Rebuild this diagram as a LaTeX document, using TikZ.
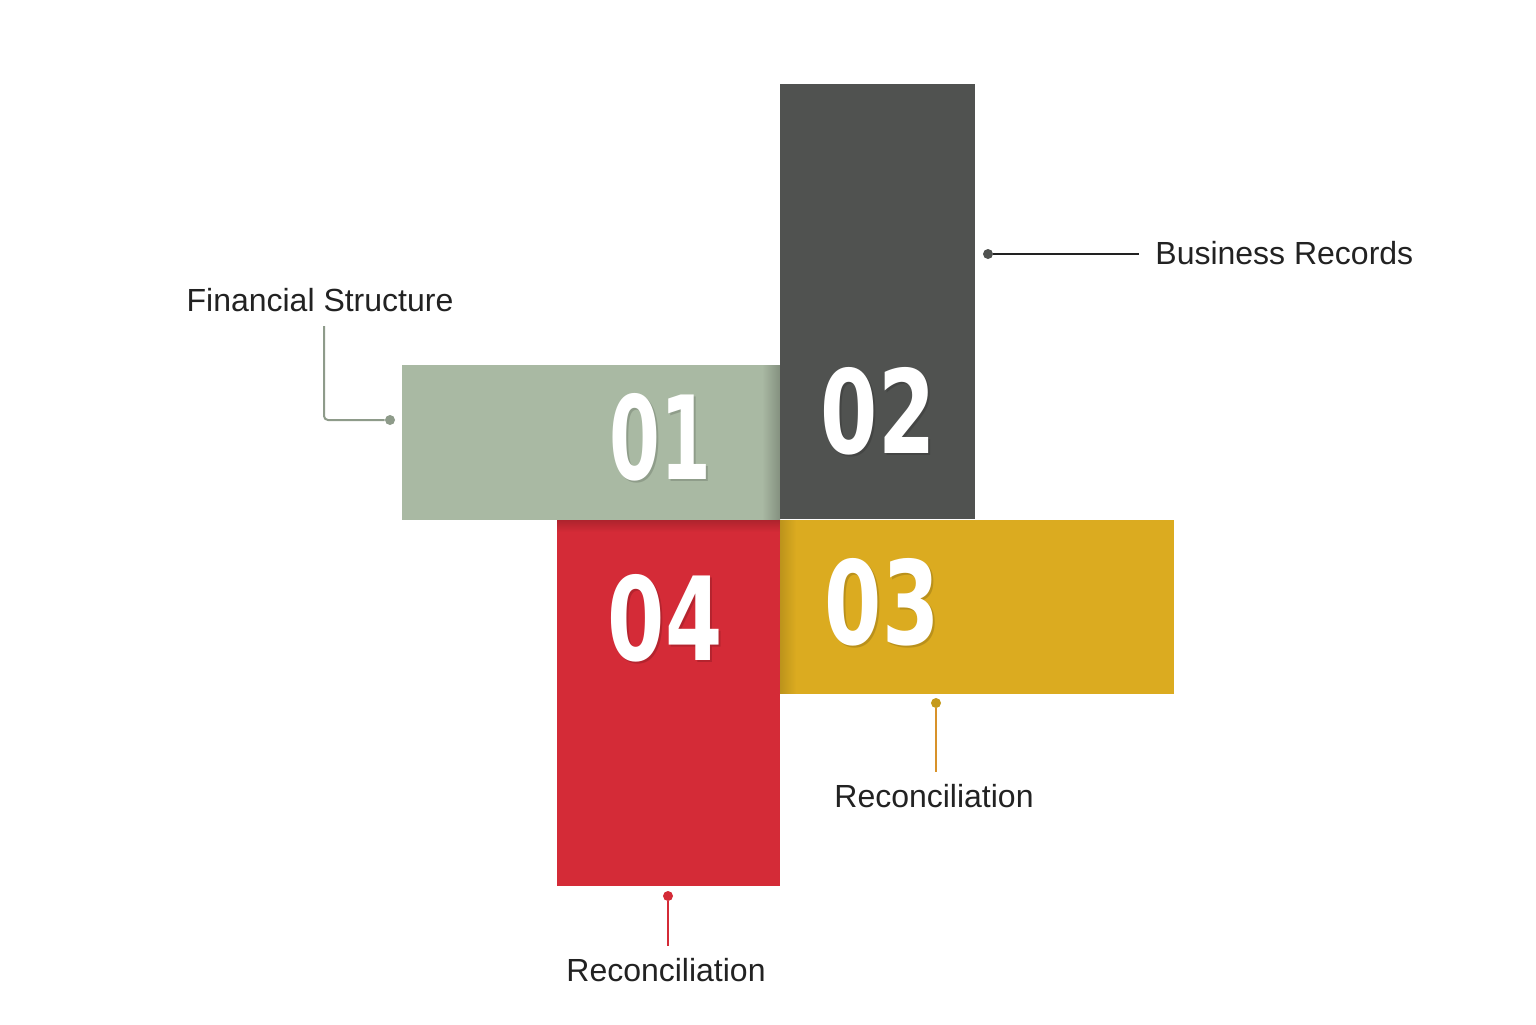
\documentclass[tikz,border=0pt]{standalone}
\usepackage{fontspec}
\setmainfont{Liberation Sans}
\newfontfamily\numfont{DejaVu Sans}[UprightFont=* Bold]
\definecolor{sage}{HTML}{A9B9A3}
\definecolor{slate}{HTML}{505250}
\definecolor{mustard}{HTML}{DBAB20}
\definecolor{crimson}{HTML}{D42B37}
\definecolor{sagedark}{HTML}{8E9B8A}
\definecolor{amber}{HTML}{D8922A}
\definecolor{ink}{HTML}{222222}
\newcommand{\bignum}[2]{\scalebox{#2}[1]{\numfont\fontsize{58}{58}\selectfont #1}}
\begin{document}
\begin{tikzpicture}[x=0.5pt,y=-0.5pt,
  block/.style={anchor=north west,inner sep=0pt,outer sep=0pt,draw=none},
  num/.style={text=white,inner sep=0pt},
  numshadow/.style={text=black,opacity=0.15,inner sep=0pt},
  lbl/.style={text=ink,font=\fontsize{16}{18}\selectfont,inner sep=0pt},
  lead/.style={line width=1pt},
  dot/.style={circle,fill,inner sep=0pt,minimum size=5pt}]
  \useasboundingbox (0,0) rectangle (1536,1024);
  % blocks
  \node[block,fill=sage,minimum width=189pt,minimum height=77.5pt] (b1) at (402,365) {};
  \shade[left color=sage,right color=sage!78!black] (762,365) rectangle (780,520);
  \node[block,fill=slate,minimum width=97.5pt,minimum height=217.5pt] (b2) at (780,84) {};
  \node[block,fill=crimson,minimum width=111.5pt,minimum height=183pt] (b4) at (557,520) {};
  \shade[top color=crimson!82!black,bottom color=crimson] (557,520) rectangle (780,532);
  \node[block,fill=mustard,minimum width=197pt,minimum height=87pt] (b3) at (780,520) {};
  \shade[left color=mustard!86!black,right color=mustard] (780,520) rectangle (796,693);
  % numbers
  \foreach \n/\x/\y/\s in {01/660/437/0.63,02/878/411/0.71,03/882/602/0.71,04/665/618/0.71}{
    \node[numshadow] at (\x+2,\y+2) {\bignum{\n}{\s}};
    \node[num] (n\n) at (\x,\y) {\bignum{\n}{\s}};
  }
  % labels
  \node[lbl] (l1) at (320,300) {Financial Structure};
  \node[lbl,anchor=west] (l2) at (1155,253) {Business Records};
  \node[lbl] (l3) at (934,796) {Reconciliation};
  \node[lbl] (l4) at (666,970) {Reconciliation};
  % leaders
  \node[dot,fill=sagedark] (d1) at (390,420) {};
  \draw[lead,sagedark,rounded corners=2pt] (d1) -| ([yshift=-7pt]l1.south -| 324,0);
  \node[dot,fill=slate] (d2) at (988,254) {};
  \draw[lead,ink] (d2) -- ([xshift=-8pt]d2 -| l2.west);
  \node[dot,fill=mustard!90!black] (d3) at (936,703) {};
  \draw[lead,amber] (d3) -- ([yshift=6pt]l3.north -| d3);
  \node[dot,fill=crimson] (d4) at (668,896) {};
  \draw[lead,crimson] (d4) -- ([yshift=6pt]l4.north -| d4);
\end{tikzpicture}
\end{document}
